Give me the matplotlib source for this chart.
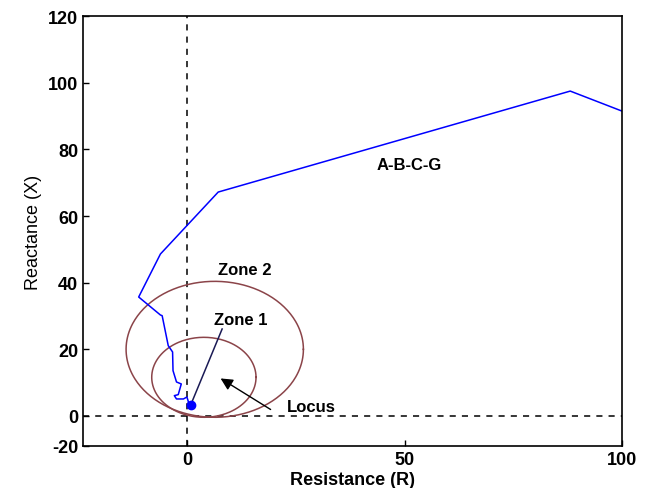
import numpy as np
import matplotlib
matplotlib.use("Agg")
import matplotlib.pyplot as plt

plt.rcParams['font.family'] = ['Liberation Sans', 'DejaVu Sans']

# impedance trajectory (R, X)
traj_r = [100, 88.1, 7.1, -6.2, -11.2, -6.2, -5.8, -4.4, -3.4, -3.3, -2.5, -1.4,
          -2.1, -3.0, -2.5, -0.9, -0.1, 0.5, 1.2, 0.2, 0.8]
traj_x = [91.5, 97.5, 67.2, 48.6, 35.7, 30.3, 30.1, 21.1, 19.2, 13.6, 10.2, 9.6,
          6.4, 6.1, 5.1, 5.1, 5.7, 3.1, 4.2, 3.9, 3.4]

# locus line from the end of the trajectory
locus_r = [0.8, 8.0]
locus_x = [3.4, 26.1]

# mho zones: centre R, centre X, radius
zone_names = ['Zone 1', 'Zone 2']
zone_cr = [3.8, 6.3]
zone_cx = [11.6, 20.0]
zone_rad = [12.0, 20.4]

fig = plt.figure(figsize=(6.54, 4.89), dpi=100)
ax = fig.add_axes([0.127, 0.086, 0.824, 0.879])

ax.axvline(0, color='black', ls=(0, (4, 4)), lw=1.1)
ax.axhline(0, color='black', ls=(0, (4, 4)), lw=1.1)

t = np.linspace(0, 2 * np.pi, 300)
for cr, cx, rad in zip(zone_cr, zone_cx, zone_rad):
    ax.plot(cr + rad * np.cos(t), cx + rad * np.sin(t), color='#8B4449', lw=1.1)

ax.plot(locus_r, locus_x, color='#1a1a55', lw=1.1)
ax.plot(traj_r, traj_x, color='blue', lw=1.1)
ax.plot(traj_r[-1], traj_x[-1], 'o', color='blue', ms=6)

ax.annotate('', xy=(7.1, 11.7), xytext=(19.7, 1.5),
            arrowprops=dict(arrowstyle='-|>', color='black', lw=1.0,
                            mutation_scale=18))
ax.text(22.9, 2.7, 'Locus', fontsize=12, fontweight='bold', va='center')
ax.text(13.3, 44, 'Zone 2', fontsize=12, fontweight='bold', ha='center', va='center')
ax.text(12.2, 29, 'Zone 1', fontsize=12, fontweight='bold', ha='center', va='center')
ax.text(51, 75.6, 'A-B-C-G', fontsize=12, fontweight='bold', ha='center', va='center')

ax.set_xlim(-24, 100)
ax.set_ylim(-9, 120)
ax.set_xticks([0, 50, 100])
ax.set_xticklabels(['0', '50', '100'], fontsize=13, fontweight='bold')
ax.set_yticks([-9, 0, 20, 40, 60, 80, 100, 120])
ax.set_yticklabels(['-20', '0', '20', '40', '60', '80', '100', '120'],
                   fontsize=13, fontweight='bold')
ax.tick_params(direction='in', length=4, width=1)
for s in ax.spines.values():
    s.set_linewidth(1.2)

ax.set_xlabel('Resistance (R)', fontsize=13, fontweight='bold', labelpad=2)
ax.set_ylabel('Reactance (X)', fontsize=13, labelpad=4)

fig.savefig('out.png', dpi=100)
